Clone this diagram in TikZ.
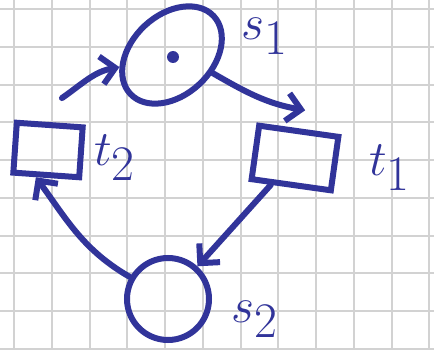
\documentclass[tikz,border=0pt]{standalone}
\usepackage{tikz}
\usetikzlibrary{arrows.meta,positioning,shapes.geometric}
\definecolor{inkblue}{HTML}{31349A}
\definecolor{gridgray}{HTML}{D2D2D2}

\begin{document}
\begin{tikzpicture}[
 x=0.5pt,y=0.5pt,
 place/.style={draw=inkblue,line width=3pt,ellipse,inner sep=0pt},
 trans/.style={draw=inkblue,line width=3pt,rectangle,inner sep=0pt},
 arc/.style={-{Straight Barb[length=7pt,width=14pt]},draw=inkblue,line width=3pt,line cap=round},
 lbl/.style={text=inkblue,font=\fontsize{34}{34}\selectfont},
 gridline/.style={draw=gridgray,line width=1pt}
]
\useasboundingbox (0,0) rectangle (434,349);
\fill[white] (0,0) rectangle (434,349);
% squared paper
\foreach \i in {0,...,11} \draw[gridline] ({14+37.75*\i},0) -- ({14+37.75*\i},349);
\foreach \j in {0,...,9} \draw[gridline] (0,{340-37.75*\j}) -- (434,{340-37.75*\j});
% places and transitions
\node[place,minimum width=57pt,minimum height=40pt,rotate=43] (s1) at (172,294) {};
\node[fill=inkblue,circle,inner sep=0pt,minimum size=6pt] (tok) at (173,292) {};
\node[place,circle,minimum size=41pt] (s2) at (168,50) {};
\node[trans,minimum width=40pt,minimum height=27pt,rotate=-8] (t1) at (295,191) {};
\node[trans,minimum width=33pt,minimum height=25pt,rotate=-4] (t2) at (48,199) {};
% labels
\node[lbl] (s1lab) at (265,313) {$s_1$};
\node[lbl] (t1lab) at (390,181) {$t_1$};
\node[lbl] (t2lab) at (115,191) {$t_2$};
\node[lbl] (s2lab) at (255,30) {$s_2$};
% arcs (s1 is rotated by 43, its anchors too)
\draw[arc] ([xshift=6pt,yshift=12pt]t2.north) to[out=35,in=190] (s1.150);
\draw[arc] (s1.-67) to[out=-30,in=170] ([xshift=3pt,yshift=9pt]t1.north);
\draw[arc] (t1) -- (s2);
\draw[arc] (s2) to[out=150,in=-54] (t2.-110);
\end{tikzpicture}
\end{document}
